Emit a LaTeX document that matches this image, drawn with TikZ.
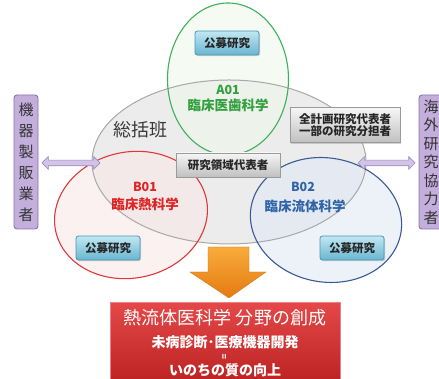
\documentclass[tikz,border=0pt]{standalone}
\usepackage{fontspec}
\setmainfont{Noto Sans CJK JP}
\usetikzlibrary{shapes.geometric,shapes.arrows,shadows}
\definecolor{greyfill}{HTML}{E6E6E6}
\definecolor{greyline}{HTML}{A8A8A8}
\definecolor{greenfill}{HTML}{EEF6EA}
\definecolor{greenline}{HTML}{3CB05A}
\definecolor{redfill}{HTML}{F8E8E8}
\definecolor{redline}{HTML}{E03838}
\definecolor{bluefill}{HTML}{E1EAF5}
\definecolor{blueline}{HTML}{3A5A94}
\definecolor{boxtop}{HTML}{C2E7F3}
\definecolor{boxbot}{HTML}{68B6D0}
\definecolor{boxline}{HTML}{4A96B6}
\definecolor{gtop}{HTML}{F6F6F6}
\definecolor{gbot}{HTML}{C0C0C0}
\definecolor{purp}{HTML}{C4AEDC}
\definecolor{purpline}{HTML}{8A70B2}
\definecolor{arrfill}{HTML}{D2C4E6}
\definecolor{arrline}{HTML}{9D89C2}
\definecolor{orange1}{HTML}{F9AC3C}
\definecolor{orange2}{HTML}{E47A12}
\definecolor{red1}{HTML}{E44848}
\definecolor{red2}{HTML}{B81E1E}
\definecolor{gtext}{HTML}{33A040}
\definecolor{rtext}{HTML}{E02424}
\definecolor{btext}{HTML}{2F63A8}
\begin{document}
\begin{tikzpicture}[x=1pt,y=1pt,
  ov/.style={ellipse, inner sep=0pt},
  kobo/.style={rectangle, rounded corners=2.5pt, draw=boxline, line width=0.8pt,
    top color=boxtop, bottom color=boxbot, minimum width=64pt, minimum height=24pt,
    inner sep=0pt, font=\fontsize{11.5}{13}\selectfont\bfseries, text=black!85,
    drop shadow={opacity=0.35, shadow xshift=1.2pt, shadow yshift=-1.2pt}},
  greybox/.style={rectangle, draw=gbot!80!black, line width=0.4pt,
    top color=gtop, bottom color=gbot, inner sep=0pt,
    font=\fontsize{11.5}{12.5}\selectfont\bfseries, text=black!85, align=center,
    drop shadow={opacity=0.35, shadow xshift=1.2pt, shadow yshift=-1.2pt}},
  purpbox/.style={rectangle, rounded corners=3pt, fill=purp, draw=purpline,
    line width=0.9pt, minimum width=24pt, minimum height=134pt, inner sep=0pt,
    align=center, text=black!80},
  dblarr/.style={double arrow, fill=arrfill, draw=arrline, line width=0.7pt,
    inner xsep=0pt, inner ysep=2.5pt, double arrow head extend=3.5pt,
    double arrow head indent=0pt},
  lbl/.style={inner sep=0pt, font=\fontsize{13.5}{15}\selectfont\bfseries}
]
\useasboundingbox (0,0) rectangle (439,379);
\clip (0,0) rectangle (439,379);

% ellipse fills
\node[ov, fill=greyfill, fill opacity=0.75, minimum width=274pt, minimum height=164pt] (grey) at (229,217) {};
\node[ov, fill=greenfill, fill opacity=0.6, minimum width=121pt, minimum height=152pt] (green) at (228,300) {};
\node[ov, fill=redfill, fill opacity=0.6, minimum width=154pt, minimum height=126pt, rotate=12] (red) at (131,164) {};
\node[ov, fill=bluefill, fill opacity=0.6, minimum width=152pt, minimum height=124pt, rotate=-10] (blue) at (326,159) {};
% ellipse borders
\node[ov, draw=greyline, line width=1pt, minimum width=274pt, minimum height=164pt] (greyB) at (grey.center) {};
\node[ov, draw=greenline, line width=1.1pt, minimum width=121pt, minimum height=152pt] (greenB) at (green.center) {};
\node[ov, draw=redline, line width=1.1pt, minimum width=154pt, minimum height=126pt, rotate=12] (redB) at (red.center) {};
\node[ov, draw=blueline, line width=1.1pt, minimum width=152pt, minimum height=124pt, rotate=-10] (blueB) at (blue.center) {};

% side boxes
\node[purpbox, font=\fontsize{15}{21}\selectfont] (maker) at (26,217) {機\\器\\製\\販\\業\\者};
\node[purpbox, font=\fontsize{15}{18.5}\selectfont] (abroad) at (431,217) {海\\外\\研\\究\\協\\力\\者};
\node[dblarr, minimum height=58pt] (larr) at (71,216) {};
\node[dblarr, minimum height=57pt] (rarr) at (386.5,216) {};

% texts
\node[inner sep=0pt, font=\fontsize{18}{20}\selectfont, text=black!78] (sokatsu) at (140,249) {総括班};
\node[kobo] (kA) at (227,336) {公募研究};
\node[lbl, text=gtext, font=\fontsize{12.5}{14}\selectfont\bfseries] (a01) at (228,289) {A01};
\node[lbl, text=gtext] (a01n) at (228,274) {臨床医歯科学};
\node[greybox, minimum width=110pt, minimum height=35pt] (zen) at (345,254) {全計画研究代表者\\一部の研究分担者};
\node[greybox, minimum width=104pt, minimum height=24pt] (ryoiki) at (228,214) {研究領域代表者};
\node[lbl, text=rtext, font=\fontsize{12.5}{14}\selectfont\bfseries] (b01) at (145,192) {B01};
\node[lbl, text=rtext] (b01n) at (145,175) {臨床熱科学};
\node[lbl, text=btext, font=\fontsize{12.5}{14}\selectfont\bfseries] (b02) at (303,192) {B02};
\node[lbl, text=btext] (b02n) at (305,173) {臨床流体科学};
\node[kobo] (kB1) at (108,131) {公募研究};
\node[kobo] (kB2) at (352,131) {公募研究};

% orange arrow
\shade[top color=orange1, bottom color=orange2, draw=orange2!90!black, line width=0.3pt]
  (208,132) -- (249,132) -- (249,107) -- (266,107) -- (229,81) -- (190,107) -- (208,107) -- cycle;

% goal box
\node[rectangle, anchor=north west, top color=red1, bottom color=red2, draw=red1!70!white,
  line width=0.8pt, minimum width=230pt, minimum height=90pt, inner sep=0pt] (goal) at (110,77) {};
\node[inner sep=0pt, text=white, font=\fontsize{18}{20}\selectfont] (g1) at (225,61) {熱流体医科学 分野の創成};
\node[inner sep=0pt, text=white, font=\fontsize{14}{16}\selectfont\bfseries] (g2) at (225,37) {未病診断･医療機器開発};
\node[inner sep=0pt, text=white, rotate=90, font=\fontsize{9}{10}\selectfont\bfseries] (g3) at (225,22.5) {=};
\node[inner sep=0pt, text=white, font=\fontsize{14}{16}\selectfont\bfseries] (g4) at (225,9) {いのちの質の向上};
\end{tikzpicture}
\end{document}
